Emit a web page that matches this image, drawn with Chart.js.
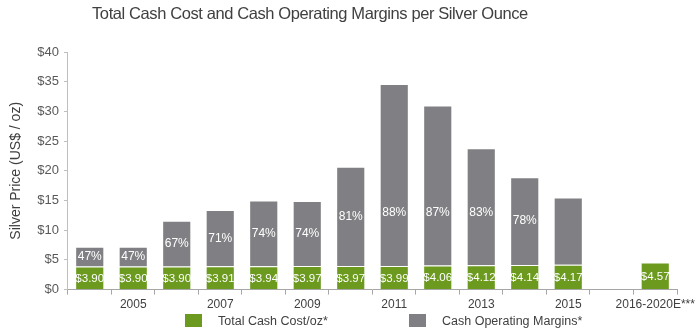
<!DOCTYPE html>
<html>
<head>
<meta charset="utf-8">
<script src="https://cdn.jsdelivr.net/npm/chart.js@4/dist/chart.umd.min.js"></script>
<style>
    body { margin: 0; background: #fff; font-family: Arial, "Liberation Sans", sans-serif; }
    #wrap { position: relative; width: 700px; height: 336px; }
    #title { position: absolute; left: 92px; top: 3px; font-size: 16.5px; letter-spacing: -0.4px; line-height: 20px; color: #404040; white-space: nowrap; }
    .legendItem { position: absolute; top: 314px; font-size: 12.5px; color: #404040; white-space: nowrap; }
    .legendItem span { display: inline-block; width: 17px; height: 13px; vertical-align: -2px; margin-right: 16px; }
</style>
</head>
<body>
<div id="wrap">
    <canvas id="cashChart" width="700" height="336"></canvas>
    <div id="title">Total Cash Cost and Cash Operating Margins per Silver Ounce</div>
    <div class="legendItem" style="left:185px"><span style="background:#6b9a1e"></span>Total Cash Cost/oz*</div>
    <div class="legendItem" style="left:409px"><span style="background:#808084"></span>Cash Operating Margins*</div>
</div>
<script>
const years = ['2004', '2005', '2006', '2007', '2008', '2009', '2010', '2011', '2012', '2013', '2014', '2015', '', '2016-2020E***']
// US$ per ounce
const cashCost = [3.90, 3.90, 3.90, 3.91, 3.94, 3.97, 3.97, 3.99, 4.06, 4.12, 4.14, 4.17, null, 4.57]
const silverPrice = [7.2, 7.2, 11.6, 13.4, 15.0, 14.9, 20.7, 34.6, 31.0, 23.8, 18.9, 15.5, null, null]
const marginPct = [47, 47, 67, 71, 74, 74, 81, 88, 87, 83, 78, null, null, null]

const green = '#6b9a1e'
const gray = '#808084'

// operating margin = price minus cash cost
const cashMargin = silverPrice.map((p, i) => p === null ? null : +(p - cashCost[i]).toFixed(2))

const barLabels = {
    id: 'barLabels',
    afterDatasetsDraw(chart) {
        const ctx = chart.ctx
        const y = chart.scales.y
        const costBars = chart.getDatasetMeta(0).data
        const marginBars = chart.getDatasetMeta(1).data
        ctx.save()
        ctx.fillStyle = '#ffffff'
        ctx.textAlign = 'center'
        ctx.textBaseline = 'middle'
        ctx.font = '11.5px Arial, "Liberation Sans", sans-serif'
        costBars.forEach((bar, i) => {
            if (cashCost[i] === null) return
            ctx.fillText('$' + cashCost[i].toFixed(2), bar.x, (bar.y + bar.base) / 2 + 1)
        })
        ctx.font = '12px Arial, "Liberation Sans", sans-serif'
        const cap = y.getPixelForValue(13)
        marginBars.forEach((bar, i) => {
            if (marginPct[i] === null) return
            const mid = (bar.y + bar.base) / 2
            ctx.fillText(marginPct[i] + '%', bar.x, Math.max(mid, cap))
        })
        ctx.restore()
    }
}

const ctx = document.getElementById('cashChart').getContext('2d')
const myChart = new Chart(ctx, {
    type: 'bar',
    data: {
        labels: years,
        datasets: [{
            label: 'Total Cash Cost/oz*',
            data: cashCost,
            backgroundColor: green,
            borderColor: 'rgba(255,255,255,0.45)',
            borderWidth: 1,
            barPercentage: 0.67,
            categoryPercentage: 1
        }, {
            label: 'Cash Operating Margins*',
            data: cashMargin,
            backgroundColor: gray,
            borderColor: 'rgba(255,255,255,0.35)',
            borderWidth: 1,
            barPercentage: 0.67,
            categoryPercentage: 1
        }]
    },
    options: {
        responsive: false,
        animation: false,
        devicePixelRatio: 1,
        layout: {
            padding: { top: 52, right: 23, bottom: 21, left: 0 }
        },
        plugins: {
            legend: { display: false },
            title: { display: false },
            tooltip: { enabled: false }
        },
        scales: {
            x: {
                stacked: true,
                grid: { drawOnChartArea: false, drawTicks: true, tickLength: 5, color: '#a6a6a6', offset: true },
                border: { color: '#a6a6a6' },
                ticks: {
                    autoSkip: false,
                    maxRotation: 0,
                    padding: 3,
                    color: '#404040',
                    font: { size: 12, family: 'Arial, "Liberation Sans", sans-serif' },
                    callback: function (value, index) {
                        return index % 2 === 1 ? this.getLabelForValue(value) : ''
                    }
                }
            },
            y: {
                stacked: true,
                min: 0,
                max: 40,
                grid: { drawOnChartArea: false, drawTicks: true, tickLength: 4, color: '#bfbfbf' },
                border: { color: '#bfbfbf' },
                ticks: {
                    stepSize: 5,
                    padding: 5,
                    color: '#595959',
                    font: { size: 13, family: 'Arial, "Liberation Sans", sans-serif' },
                    callback: value => '$' + value
                },
                title: {
                    display: true,
                    text: 'Silver Price (US$ / oz)',
                    color: '#404040',
                    font: { size: 14, family: 'Arial, "Liberation Sans", sans-serif' },
                    padding: { top: 8, bottom: 7.5 }
                }
            }
        }
    },
    plugins: [barLabels]
})
</script>
</body>
</html>
